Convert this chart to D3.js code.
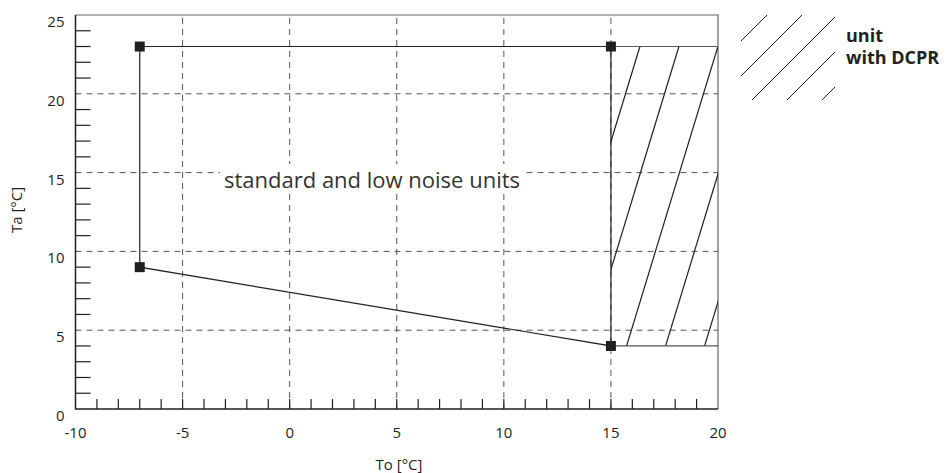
<!DOCTYPE html>
<html>
<head>
<meta charset="utf-8">
<script src="https://cdn.jsdelivr.net/npm/d3@7"></script>
<style>
  body { margin: 0; background: #fff; }
  text { font-family: "Open Sans", "DejaVu Sans", sans-serif; fill: #231f20; }
</style>
</head>
<body>
<script>
// envelope corners [To, Ta]
var envelope = [[-7, 23], [15, 23], [15, 4], [-7, 9]];
// DCPR extension area
var dcprTo = [15, 20];
var dcprTa = [4, 23];
var xTicks = [-10, -5, 0, 5, 10, 15, 20];
var yTicks = [0, 5, 10, 15, 20, 25];
var xGrid = [-5, 0, 5, 10, 15];
var yGrid = [5, 10, 15, 20];

var w = 951,
    h = 473;

var svg = d3.select('body')
            .append('svg')
            .attr('width', w)
            .attr('height', h);

var x = d3.scaleLinear().domain([-10, 20]).range([75.5, 718]);
var y = d3.scaleLinear().domain([0, 25]).range([409, 15]);

var ink = '#231f20';

// dashed grid
svg.selectAll('.gx')
   .data(xGrid)
   .enter()
   .append('line')
   .attr('x1', function(d) { return x(d); })
   .attr('x2', function(d) { return x(d); })
   .attr('y1', y(0))
   .attr('y2', y(25))
   .style('stroke', '#555')
   .style('stroke-dasharray', '6,5');

svg.selectAll('.gy')
   .data(yGrid)
   .enter()
   .append('line')
   .attr('x1', x(-10))
   .attr('x2', x(20))
   .attr('y1', function(d) { return y(d); })
   .attr('y2', function(d) { return y(d); })
   .style('stroke', '#555')
   .style('stroke-dasharray', '6,5');

// minor ticks every degree
svg.selectAll('.tx')
   .data(d3.range(-9, 20))
   .enter()
   .append('line')
   .attr('x1', function(d) { return x(d); })
   .attr('x2', function(d) { return x(d); })
   .attr('y1', y(0))
   .attr('y2', y(0) - 10)
   .style('stroke', ink)
   .style('stroke-width', 1.2);

svg.selectAll('.ty')
   .data(d3.range(1, 25).filter(function(d) { return d % 5 !== 0; }))
   .enter()
   .append('line')
   .attr('x1', x(-10))
   .attr('x2', x(-10) + 15)
   .attr('y1', function(d) { return y(d); })
   .attr('y2', function(d) { return y(d); })
   .style('stroke', ink)
   .style('stroke-width', 1.2);

// frame: top + right in grey, left + bottom as axes
svg.append('path')
   .attr('d', 'M' + x(-10) + ',' + y(25) + 'H' + x(20) + 'V' + y(0))
   .style('fill', 'none')
   .style('stroke', '#666')
   .style('stroke-width', 1.2);

svg.append('path')
   .attr('d', 'M' + x(-10) + ',' + y(25) + 'V' + y(0) + 'H' + x(20))
   .style('fill', 'none')
   .style('stroke', ink)
   .style('stroke-width', 1.5);

// tick labels
svg.selectAll('.lx')
   .data(xTicks)
   .enter()
   .append('text')
   .attr('x', function(d) { return x(d); })
   .attr('y', y(0) + 29)
   .attr('text-anchor', 'middle')
   .style('font-size', '15px')
   .text(function(d) { return d; });

svg.selectAll('.ly')
   .data(yTicks)
   .enter()
   .append('text')
   .attr('x', x(-10) - 11)
   .attr('y', function(d) { return y(d) + 12; })
   .attr('text-anchor', 'end')
   .style('font-size', '15px')
   .text(function(d) { return d; });

// axis titles
svg.append('text')
   .attr('x', 399)
   .attr('y', 470)
   .attr('text-anchor', 'middle')
   .style('font-size', '15px')
   .text('To [°C]');

svg.append('text')
   .attr('transform', 'translate(22,210) rotate(-90)')
   .attr('text-anchor', 'middle')
   .style('font-size', '15px')
   .text('Ta [°C]');

// hatched DCPR area
svg.append('clipPath')
   .attr('id', 'dcpr')
   .append('rect')
   .attr('x', x(dcprTo[0]))
   .attr('y', y(dcprTa[1]))
   .attr('width', x(dcprTo[1]) - x(dcprTo[0]))
   .attr('height', y(dcprTa[0]) - y(dcprTa[1]));

var hTop = y(dcprTa[1]),
    hBot = y(dcprTa[0]),
    lean = (hBot - hTop) * 0.305, // horizontal drift of each hatch line
    step = 39;

svg.append('g')
   .attr('clip-path', 'url(#dcpr)')
   .selectAll('line')
   .data(d3.range(0, 5))
   .enter()
   .append('line')
   .attr('x1', function(i) { return x(dcprTo[0]) + 29 + i * step - lean; })
   .attr('y1', hBot)
   .attr('x2', function(i) { return x(dcprTo[0]) + 29 + i * step; })
   .attr('y2', hTop)
   .style('stroke', ink)
   .style('stroke-width', 1.2);

// extension of top and bottom limits
svg.append('path')
   .attr('d', 'M' + x(dcprTo[0]) + ',' + y(dcprTa[1]) + 'H' + x(dcprTo[1]) +
              'M' + x(dcprTo[0]) + ',' + y(dcprTa[0]) + 'H' + x(dcprTo[1]))
   .style('stroke', '#555')
   .style('stroke-width', 1.2);

// standard envelope
svg.append('path')
   .datum(envelope)
   .attr('d', d3.line()
                .x(function(d) { return x(d[0]); })
                .y(function(d) { return y(d[1]); })
                .curve(d3.curveLinearClosed))
   .style('fill', 'none')
   .style('stroke', ink)
   .style('stroke-width', 1.2);

svg.selectAll('.pt')
   .data(envelope)
   .enter()
   .append('rect')
   .attr('x', function(d) { return x(d[0]) - 5; })
   .attr('y', function(d) { return y(d[1]) - 5; })
   .attr('width', 10)
   .attr('height', 10)
   .style('fill', ink);

// area label with white knockout
var lbl = svg.append('g');
var lblRect = lbl.append('rect').style('fill', '#fff');
var lblText = lbl.append('text')
   .attr('x', 224)
   .attr('y', 188)
   .style('font-size', '22px')
   .style('fill', '#333')
   .text('standard and low noise units');
var bb = lblText.node().getBBox();
lblRect.attr('x', bb.x - 4).attr('y', bb.y).attr('width', bb.width + 8).attr('height', bb.height);

// legend swatch, 45 degree hatch
svg.append('clipPath')
   .attr('id', 'leg')
   .append('rect')
   .attr('x', 741)
   .attr('y', 15)
   .attr('width', 94)
   .attr('height', 85);

svg.append('g')
   .attr('clip-path', 'url(#leg)')
   .selectAll('line')
   .data(d3.range(0, 5))
   .enter()
   .append('line')
   .attr('x1', function(i) { return 767 + i * 35 - 85; })
   .attr('y1', 100)
   .attr('x2', function(i) { return 767 + i * 35; })
   .attr('y2', 15)
   .style('stroke', ink)
   .style('stroke-width', 1);

svg.append('text')
   .attr('x', 846)
   .attr('y', 42)
   .style('font-size', '18px')
   .style('font-weight', 'bold')
   .text('unit');

svg.append('text')
   .attr('x', 846)
   .attr('y', 64)
   .style('font-size', '18px')
   .style('font-weight', 'bold')
   .text('with DCPR');
</script>
</body>
</html>
